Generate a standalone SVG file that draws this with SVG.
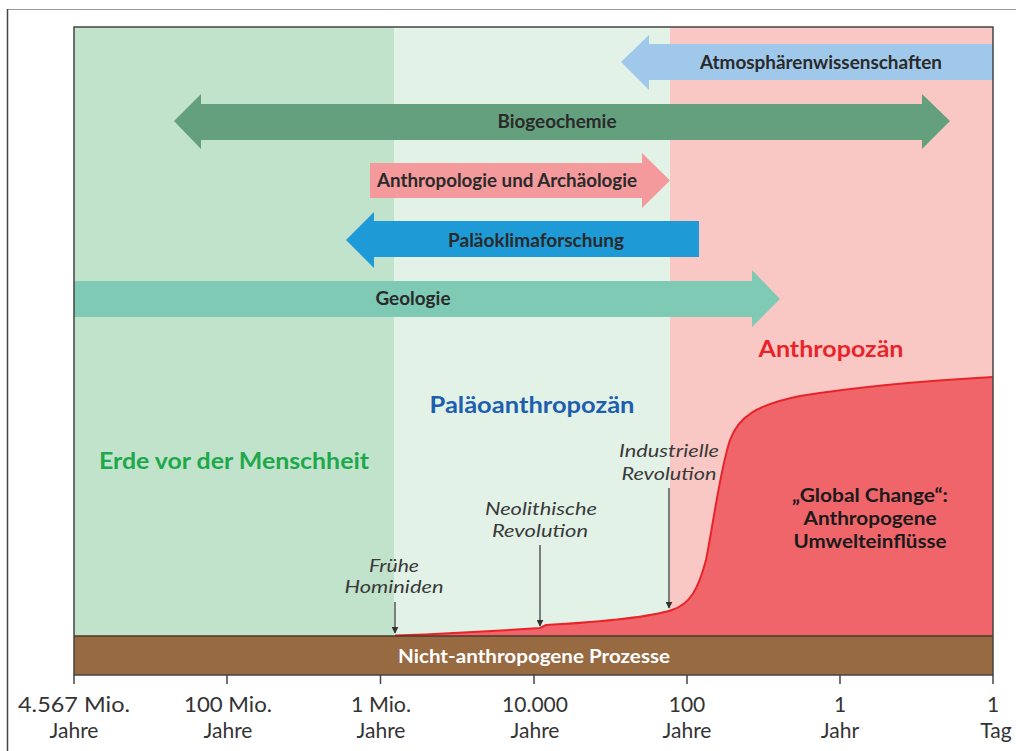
<svg xmlns="http://www.w3.org/2000/svg" width="1016" height="751" viewBox="0 0 1016 751">
<style>
.lbl{font-family:Lato,"Open Sans","Liberation Sans",sans-serif;font-weight:700;fill:#2a2a2a;text-anchor:middle}
.era{font-family:Lato,"Open Sans","Liberation Sans",sans-serif;font-weight:700;font-size:23px;text-anchor:middle}
.ital{font-family:Lato,"Open Sans","Liberation Sans",sans-serif;font-style:italic;font-size:18px;fill:#3a3a3a;text-anchor:middle}
.axis{font-family:Lato,"Open Sans","Liberation Sans",sans-serif;font-size:21px;fill:#333;text-anchor:middle}
.tick{stroke:#444;stroke-width:1.5}
.ptr{stroke:#333;stroke-width:1.2;fill:none;marker-end:url(#ah)}
</style>
<defs>
<marker id="ah" viewBox="0 0 10 10" refX="9" refY="5" markerWidth="7" markerHeight="7" markerUnits="userSpaceOnUse" orient="auto">
<path d="M0,0 L10,5 L0,10 Z" fill="#333"/>
</marker>
</defs>
<rect width="1016" height="751" fill="#fff"/>
<line x1="7" y1="9.5" x2="1016" y2="9.5" stroke="#999" stroke-width="1.2"/>
<line x1="7.5" y1="9" x2="7.5" y2="751" stroke="#444" stroke-width="1.5"/>

<g id="background">
<rect x="74" y="27" width="320" height="609" fill="#c1e2cb"/>
<rect x="394" y="27" width="276" height="609" fill="#e2f2e7"/>
<rect x="670" y="27" width="323" height="609" fill="#f9c8c4"/>
</g>

<g id="global-change">
<path d="M395,635.5 C460,633 510,630 540,628 L546,625 C600,622 650,617 672,610 C690,604 698,590 706,560 C714,520 720,470 730,440 C738,418 755,405 800,396 C850,388 920,381 993,377 L993,636 L395,636 Z" fill="#f0656a"/>
<path d="M395,635.5 C460,633 510,630 540,628 L546,625 C600,622 650,617 672,610 C690,604 698,590 706,560 C714,520 720,470 730,440 C738,418 755,405 800,396 C850,388 920,381 993,377" fill="none" stroke="#e8242b" stroke-width="2"/>
<text class="lbl" x="870" y="502" font-size="19" style="fill:#1a1a1a" textLength="156" lengthAdjust="spacingAndGlyphs">„Global Change“:</text>
<text class="lbl" x="870" y="525" font-size="19" style="fill:#1a1a1a" textLength="133" lengthAdjust="spacingAndGlyphs">Anthropogene</text>
<text class="lbl" x="870" y="548" font-size="19" style="fill:#1a1a1a" textLength="153" lengthAdjust="spacingAndGlyphs">Umwelteinflüsse</text>
</g>

<g id="atmosphaerenwissenschaften">
<path d="M993,44 L649,44 L649,35 L621,62 L649,90 L649,80 L993,80 Z" fill="#9fc8ea"/>
<text class="lbl" x="821" y="69" font-size="19" textLength="242" lengthAdjust="spacingAndGlyphs">Atmosphärenwissenschaften</text>
</g>

<g id="biogeochemie">
<path d="M174,121 L201,94 L201,104 L922,104 L922,94 L950,121 L922,149 L922,140 L201,140 L201,149 Z" fill="#64a07d"/>
<text class="lbl" x="557" y="128" font-size="19" textLength="119" lengthAdjust="spacingAndGlyphs">Biogeochemie</text>
</g>

<g id="anthropologie">
<path d="M370,163 L642,163 L642,153 L670,180.5 L642,208 L642,198 L370,198 Z" fill="#f4999c"/>
<text class="lbl" x="507" y="187" font-size="19" textLength="260" lengthAdjust="spacingAndGlyphs">Anthropologie und Archäologie</text>
</g>

<g id="palaeoklimaforschung">
<path d="M699,221 L374,221 L374,212 L346,240 L374,268 L374,257 L699,257 Z" fill="#1e9ad6"/>
<text class="lbl" x="536" y="247" font-size="19" textLength="176" lengthAdjust="spacingAndGlyphs">Paläoklimaforschung</text>
</g>

<g id="geologie">
<path d="M74,281 L752,281 L752,270 L780,299 L752,327 L752,317 L74,317 Z" fill="#7ecab5"/>
<text class="lbl" x="413" y="305" font-size="19" textLength="75" lengthAdjust="spacingAndGlyphs">Geologie</text>
</g>

<g id="anthropozaen">
<text class="era" x="831" y="357" fill="#e8242b" textLength="145" lengthAdjust="spacingAndGlyphs">Anthropozän</text>
</g>
<g id="palaeoanthropozaen">
<text class="era" x="532" y="413" fill="#1d5eae" textLength="205" lengthAdjust="spacingAndGlyphs">Paläoanthropozän</text>
</g>
<g id="erde-vor-der-menschheit">
<text class="era" x="234" y="469" fill="#1ea84c" textLength="270" lengthAdjust="spacingAndGlyphs">Erde vor der Menschheit</text>
</g>

<g id="industrielle-revolution">
<text class="ital" x="669" y="457" textLength="100" lengthAdjust="spacingAndGlyphs">Industrielle</text>
<text class="ital" x="669" y="480" textLength="95" lengthAdjust="spacingAndGlyphs">Revolution</text>
</g>
<g id="neolithische-revolution">
<text class="ital" x="541" y="515" textLength="112" lengthAdjust="spacingAndGlyphs">Neolithische</text>
<text class="ital" x="540" y="537" textLength="96" lengthAdjust="spacingAndGlyphs">Revolution</text>
</g>
<g id="fruehe-hominiden">
<text class="ital" x="394" y="572" font-size="17.5" textLength="50" lengthAdjust="spacingAndGlyphs">Frühe</text>
<text class="ital" x="394" y="593" font-size="17.5" textLength="99" lengthAdjust="spacingAndGlyphs">Hominiden</text>
</g>

<g id="connectors">
<line class="ptr" x1="669" y1="488" x2="669" y2="608"/>
<line class="ptr" x1="540" y1="545" x2="540" y2="626"/>
<line class="ptr" x1="395" y1="602" x2="395" y2="633"/>
</g>

<g id="nicht-anthropogene-prozesse">
<rect x="74" y="636" width="919" height="39" fill="#986a42"/>
<line x1="74" y1="636" x2="993" y2="636" stroke="#4a3a2a" stroke-width="1.5"/>
<text class="lbl" x="534" y="663" font-size="18" style="fill:#fff" textLength="272" lengthAdjust="spacingAndGlyphs">Nicht-anthropogene Prozesse</text>
</g>

<g id="frame">
<rect x="74" y="27" width="919" height="648" fill="none" stroke="#444" stroke-width="1.5"/>
</g>

<g id="axis">
<line class="tick" x1="74" y1="675" x2="74" y2="684"/>
<line class="tick" x1="227" y1="675" x2="227" y2="684"/>
<line class="tick" x1="380.5" y1="675" x2="380.5" y2="684"/>
<line class="tick" x1="534" y1="675" x2="534" y2="684"/>
<line class="tick" x1="687" y1="675" x2="687" y2="684"/>
<line class="tick" x1="840" y1="675" x2="840" y2="684"/>
<line class="tick" x1="993" y1="675" x2="993" y2="684"/>
<text class="axis" x="74" y="712" textLength="112" lengthAdjust="spacingAndGlyphs">4.567 Mio.</text>
<text class="axis" x="74" y="738">Jahre</text>
<text class="axis" x="228" y="712" textLength="88" lengthAdjust="spacingAndGlyphs">100 Mio.</text>
<text class="axis" x="228" y="738">Jahre</text>
<text class="axis" x="381" y="712" textLength="60" lengthAdjust="spacingAndGlyphs">1 Mio.</text>
<text class="axis" x="381" y="738">Jahre</text>
<text class="axis" x="535" y="712">10.000</text>
<text class="axis" x="535" y="738">Jahre</text>
<text class="axis" x="687" y="712">100</text>
<text class="axis" x="687" y="738">Jahre</text>
<text class="axis" x="840" y="712">1</text>
<text class="axis" x="840" y="738">Jahr</text>
<text class="axis" x="993" y="712">1</text>
<text class="axis" x="996" y="738">Tag</text>
</g>
</svg>
